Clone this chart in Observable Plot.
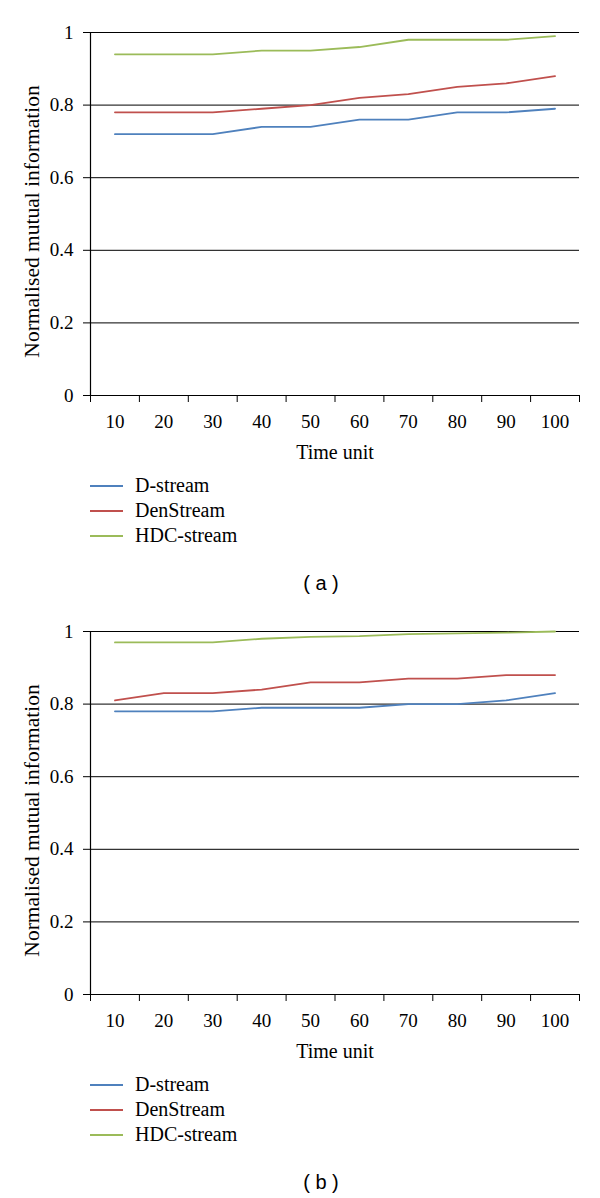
<!DOCTYPE html>
<html>
<head>
<meta charset="utf-8">
<script src="https://cdn.jsdelivr.net/npm/d3@7"></script>
<script src="https://cdn.jsdelivr.net/npm/@observablehq/plot@0.6"></script>
<style>
  html, body { margin: 0; padding: 0; background: #fff; }
  .panel { position: relative; width: 600px; height: 599px; overflow: hidden; }
  .panel svg.plot { position: absolute; left: 0; top: 0; }
  .legend { position: absolute; left: 0; top: 473px; font-family: "Liberation Serif", "Times New Roman", serif; font-size: 20px; color: #000; }
  .legend .row { position: relative; height: 25px; width: 400px; }
  .legend .row svg { position: absolute; left: 90px; top: 11px; }
  .legend .row span { position: absolute; left: 135px; top: 0; line-height: 25px; }
  .caption { position: absolute; left: 0; width: 642px; top: 571px; text-align: center; font-family: "Liberation Sans", Arial, sans-serif; font-size: 20px; line-height: 24px; color: #000; }
</style>
</head>
<body>
<div id="root"></div>
<script>
// ---- data ----
const times = [10, 20, 30, 40, 50, 60, 70, 80, 90, 100];
const seriesNames = ["D-stream", "DenStream", "HDC-stream"];
const seriesColors = ["#4F81BD", "#C0504D", "#9BBB59"];
const yTicks = [0, 0.2, 0.4, 0.6, 0.8, 1];

// panel (a)
const dstreamA   = [0.72, 0.72, 0.72, 0.74, 0.74, 0.76, 0.76, 0.78, 0.78, 0.79];
const denstreamA = [0.78, 0.78, 0.78, 0.79, 0.80, 0.82, 0.83, 0.85, 0.86, 0.88];
const hdcA       = [0.94, 0.94, 0.94, 0.95, 0.95, 0.96, 0.98, 0.98, 0.98, 0.99];

// panel (b)
const dstreamB   = [0.78, 0.78, 0.78, 0.79, 0.79, 0.79, 0.80, 0.80, 0.81, 0.83];
const denstreamB = [0.81, 0.83, 0.83, 0.84, 0.86, 0.86, 0.87, 0.87, 0.88, 0.88];
const hdcB       = [0.97, 0.97, 0.97, 0.98, 0.985, 0.987, 0.993, 0.995, 0.997, 1.0];

const captions = ["( a )", "( b )"];
const yLabel = "Normalised mutual information";
const xLabel = "Time unit";

// category boundaries (Excel-style ticks between categories)
const step = times[1] - times[0];
const boundaries = times.map(t => t - step / 2).concat([times[times.length - 1] + step / 2]);

function makePanel(seriesValues, caption) {
  const data = [];
  seriesNames.forEach((name, i) => {
    times.forEach((t, j) => data.push({ series: name, t, v: seriesValues[i][j] }));
  });

  const plot = Plot.plot({
    width: 600,
    height: 470,
    marginLeft: 90,
    marginRight: 21,
    marginTop: 32,
    marginBottom: 75,
    style: { fontFamily: "Liberation Serif, Times New Roman, serif", fontSize: "19px", color: "#000", background: "transparent" },
    x: { domain: [boundaries[0], boundaries[boundaries.length - 1]], axis: null },
    y: { domain: [0, 1], axis: null },
    color: { domain: seriesNames, range: seriesColors },
    marks: [
      Plot.ruleY(yTicks.filter(d => d > 0), { stroke: "#000", strokeWidth: 1 }),
      Plot.axisY({ ticks: yTicks, tickSize: 7, tickPadding: 10, stroke: "#000", strokeOpacity: 1,
        tickFormat: d => (d === 0 || d === 1) ? String(d) : d.toFixed(1), label: null, fontSize: 19 }),
      Plot.axisX({ ticks: boundaries, tickSize: 7, stroke: "#000", strokeOpacity: 1, tickFormat: () => "", label: null }),
      Plot.axisX({ ticks: times, tickSize: 0, tickPadding: 19, tickFormat: d => String(d), label: null, fontSize: 19 }),
      Plot.ruleX([boundaries[0]], { y1: 0, y2: 1, stroke: "#000", strokeWidth: 1.2 }),
      Plot.ruleY([0], { stroke: "#000", strokeWidth: 1.2 }),
      Plot.line(data, { x: "t", y: "v", z: "series", stroke: "series", strokeWidth: 1.8 }),
      Plot.text([xLabel], { frameAnchor: "bottom", lineAnchor: "middle", textAnchor: "middle", dy: 57, fontSize: 20 }),
      Plot.text([yLabel], { frameAnchor: "left", textAnchor: "middle", lineAnchor: "middle", rotate: -90, dx: -58, dy: 7.5, fontSize: 21.5 })
    ]
  });
  plot.classList.add("plot");

  const panel = document.createElement("div");
  panel.className = "panel";
  panel.appendChild(plot);

  const legend = document.createElement("div");
  legend.className = "legend";
  seriesNames.forEach((name, i) => {
    const row = document.createElement("div");
    row.className = "row";
    row.innerHTML = `<svg width="34" height="4"><line x1="0" x2="33" y1="2" y2="2" stroke="${seriesColors[i]}" stroke-width="2"/></svg><span>${name}</span>`;
    legend.appendChild(row);
  });
  panel.appendChild(legend);

  const cap = document.createElement("div");
  cap.className = "caption";
  cap.textContent = caption;
  panel.appendChild(cap);
  return panel;
}

const root = document.getElementById("root");
root.appendChild(makePanel([dstreamA, denstreamA, hdcA], captions[0]));
root.appendChild(makePanel([dstreamB, denstreamB, hdcB], captions[1]));
</script>
</body>
</html>
